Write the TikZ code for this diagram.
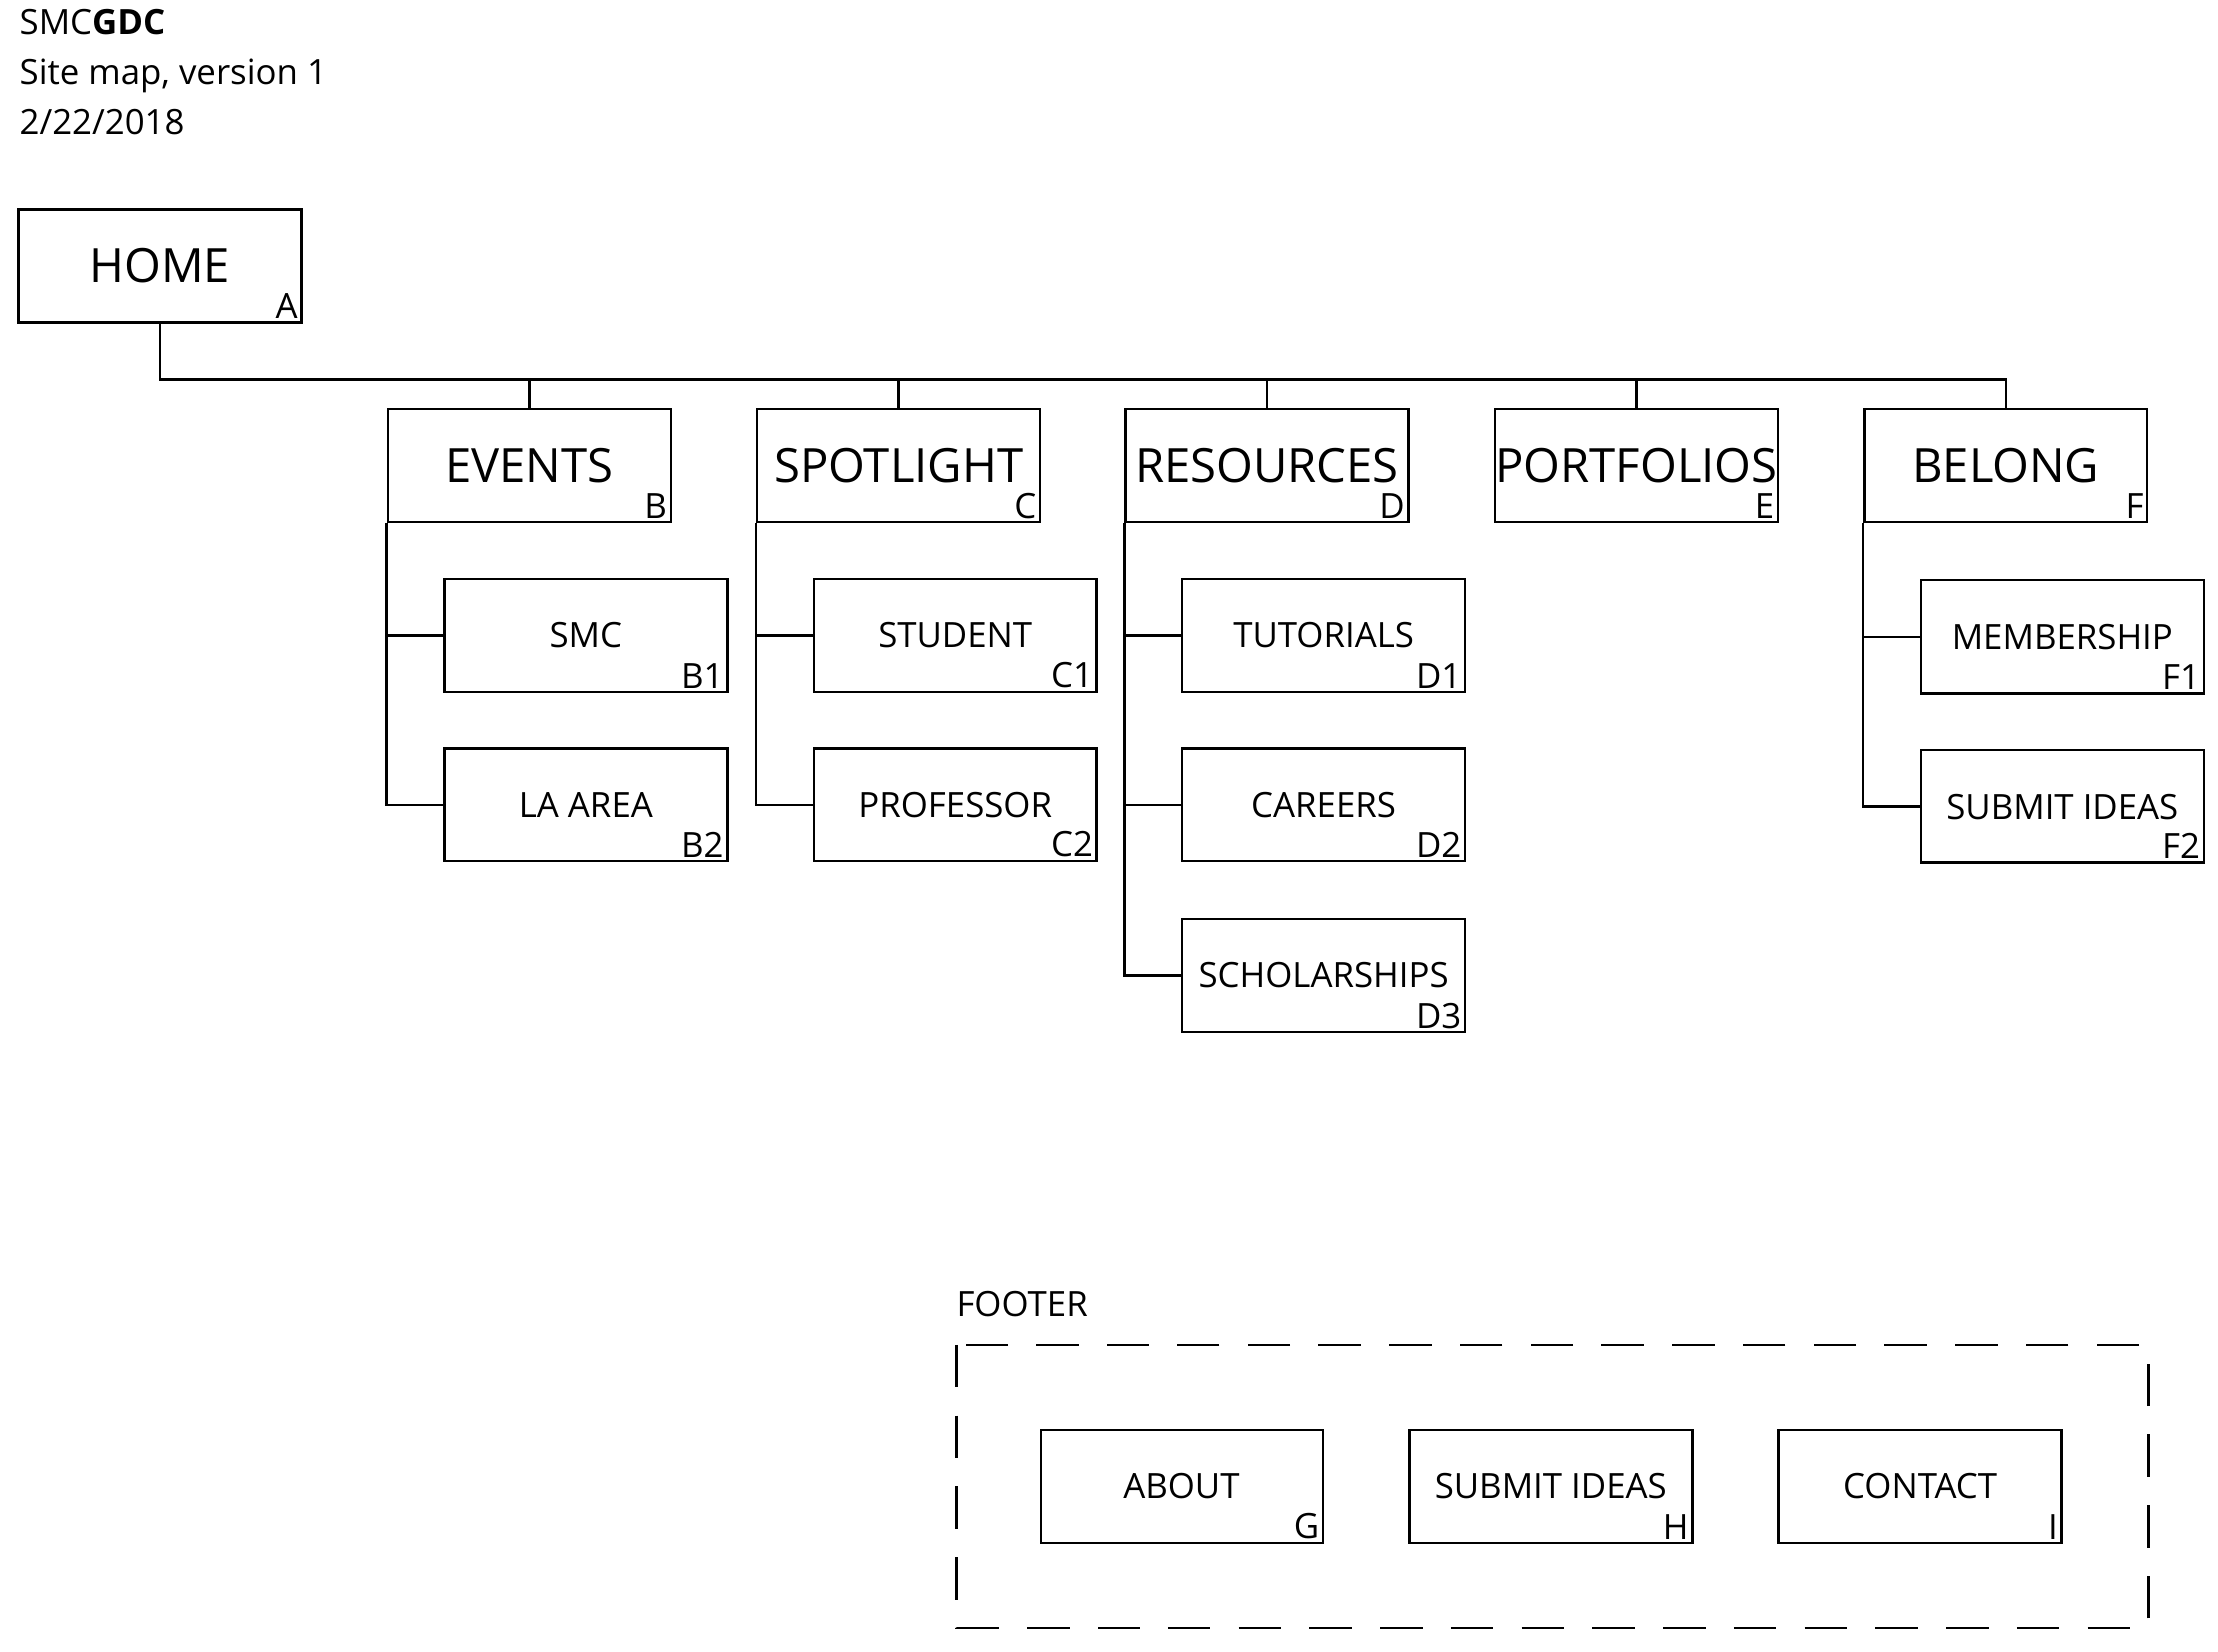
\documentclass[tikz,border=0pt]{standalone}
\usepackage{fontspec}
\setmainfont{Open Sans}
\usetikzlibrary{positioning}
\begin{document}
\begin{tikzpicture}[x=0.02cm, y=-0.02cm, line width=1pt,
    page/.style={draw, minimum width=4cm, minimum height=1.6cm, inner sep=0pt},
    big/.style={page, font=\fontsize{19}{22}\selectfont},
    small/.style={page, font=\fontsize{14}{16}\selectfont},
    tag/.style={anchor=south east, inner sep=1.5pt, font=\fontsize{14}{16}\selectfont}]
  \useasboundingbox (0,0) rectangle (1568,1167.5);
  % header
  \node[anchor=north west, align=left, font=\fontsize{14}{20}\selectfont, inner sep=0pt] (title) at (13,6)
    {SMC\textbf{GDC}\\Site map, version 1\\2/22/2018};
  % home
  \node[big] (home) at (113,188) {HOME};
  \node[tag] at (home.south east) {A};
  % level 1
  \foreach \n/\t/\l/\x in {events/EVENTS/B/374, spot/SPOTLIGHT/C/635, res/RESOURCES/D/896, port/PORTFOLIOS/E/1157, bel/BELONG/F/1418}{
    \node[big] (\n) at (\x,329) {\t};
    \node[tag] at (\n.south east) {\l};
    \draw (home.south) |- (\x,268) -- (\n.north);
  }
  % level 2
  \foreach \p/\n/\t/\l/\y in {events/smc/SMC/B1/449, events/la/LA AREA/B2/569,
      spot/stud/STUDENT/C1/449, spot/prof/PROFESSOR/C2/569,
      res/tut/TUTORIALS/D1/449, res/car/CAREERS/D2/569, res/sch/SCHOLARSHIPS/D3/690,
      bel/mem/MEMBERSHIP/F1/450, bel/sub/SUBMIT IDEAS/F2/570}{
    \node[small, anchor=west] (\n) at ([xshift=0.8cm]\p.west |- 0,\y) {\t};
    \node[tag] at (\n.south east) {\l};
    \draw (\p.south west) |- (\n.west);
  }
  % footer
  \node[anchor=south west, inner sep=0pt, font=\fontsize{14}{16}\selectfont] (ftitle) at (675,932) {FOOTER};
  \draw[dash pattern=on 0.6cm off 0.4cm] (676,951) rectangle (1519,1151);
  \foreach \n/\t/\l/\x in {about/ABOUT/G/835.5, fsub/SUBMIT IDEAS/H/1096.5, cont/CONTACT/I/1357.5}{
    \node[small] (\n) at (\x,1051) {\t};
    \node[tag] at (\n.south east) {\l};
  }
\end{tikzpicture}
\end{document}
